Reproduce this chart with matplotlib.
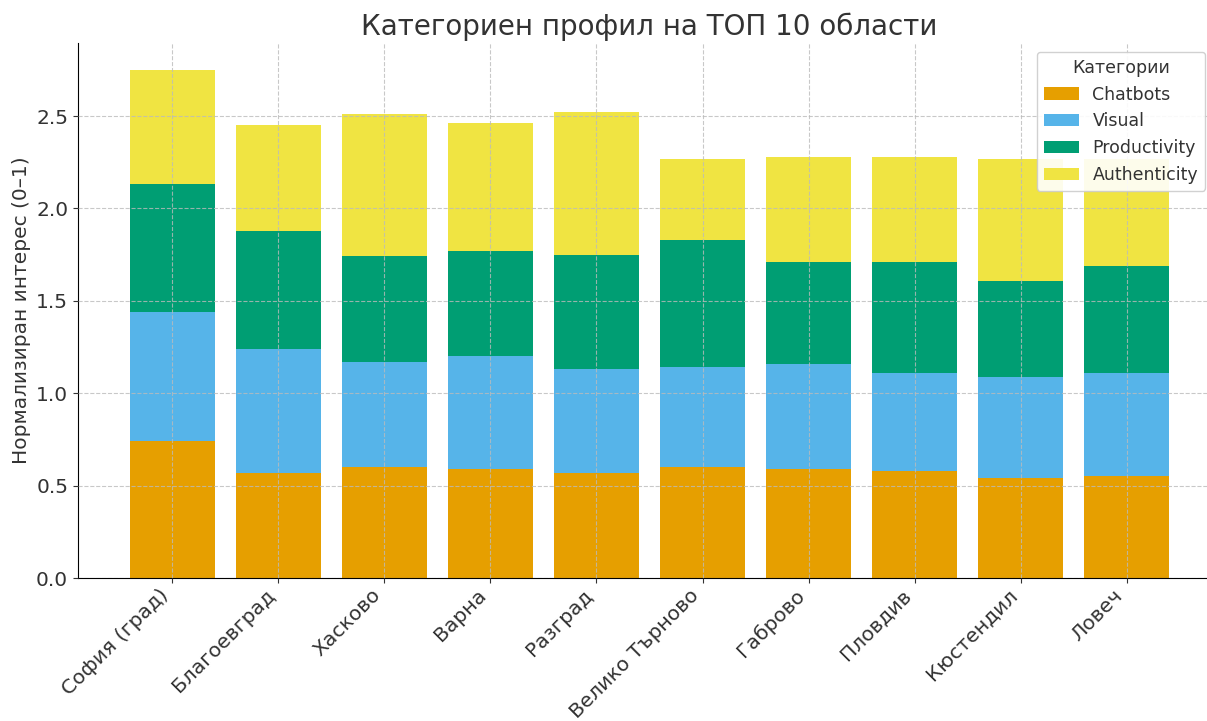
import numpy as np
import matplotlib.pyplot as plt

regions = ['София (град)', 'Благоевград', 'Хасково', 'Варна', 'Разград',
           'Велико Търново', 'Габрово', 'Пловдив', 'Кюстендил', 'Ловеч']
chatbots = [0.74, 0.57, 0.60, 0.59, 0.57, 0.60, 0.59, 0.58, 0.54, 0.55]
visual = [0.70, 0.67, 0.57, 0.61, 0.56, 0.54, 0.57, 0.53, 0.55, 0.56]
productivity = [0.69, 0.64, 0.57, 0.57, 0.62, 0.69, 0.55, 0.60, 0.52, 0.58]
authenticity = [0.62, 0.57, 0.77, 0.69, 0.77, 0.44, 0.57, 0.57, 0.66, 0.58]

series = [('Chatbots', chatbots, '#E69F00'),
          ('Visual', visual, '#56B4E9'),
          ('Productivity', productivity, '#009E73'),
          ('Authenticity', authenticity, '#F0E442')]

plt.rcParams['font.family'] = 'DejaVu Sans'
plt.rcParams['text.color'] = '#333333'
plt.rcParams['axes.labelcolor'] = '#333333'
plt.rcParams['xtick.color'] = '#333333'
plt.rcParams['ytick.color'] = '#333333'

fig = plt.figure(figsize=(12.07, 7.21), dpi=100)
# axes run a little past the right edge, as in the cropped original
ax = fig.add_axes([0.0646, 0.1983, 0.947, 0.742])
x = np.arange(len(regions))
bottom = np.zeros(len(regions))
for name, vals, col in series:
    ax.bar(x, vals, 0.8, bottom=bottom, color=col, label=name)
    bottom += np.array(vals)

ax.set_title('Категориен профил на ТОП 10 области', fontsize=20)
ax.set_ylabel('Нормализиран интерес (0–1)', fontsize=14.5)
ax.set_xticks(x)
ax.set_xticklabels(regions, rotation=45, ha='right', fontsize=14.6)
ax.tick_params(axis='y', labelsize=14.5)
ax.tick_params(axis='x', pad=2)
ax.set_xlim(-0.89, 9.89)
ax.set_ylim(0, 2.895)
ax.grid(True, linestyle='--', color='#bbbbbb', alpha=0.8, linewidth=0.8)
ax.set_axisbelow(False)
ax.spines['top'].set_visible(False)
ax.spines['right'].set_visible(False)
ax.legend(title='Категории', fontsize=12.5, title_fontsize=12.5, loc='upper right',
          bbox_to_anchor=(1205 / 1207, 1 - 52 / 721), bbox_transform=fig.transFigure,
          borderaxespad=0, framealpha=0.9)

plt.savefig('out.png')
